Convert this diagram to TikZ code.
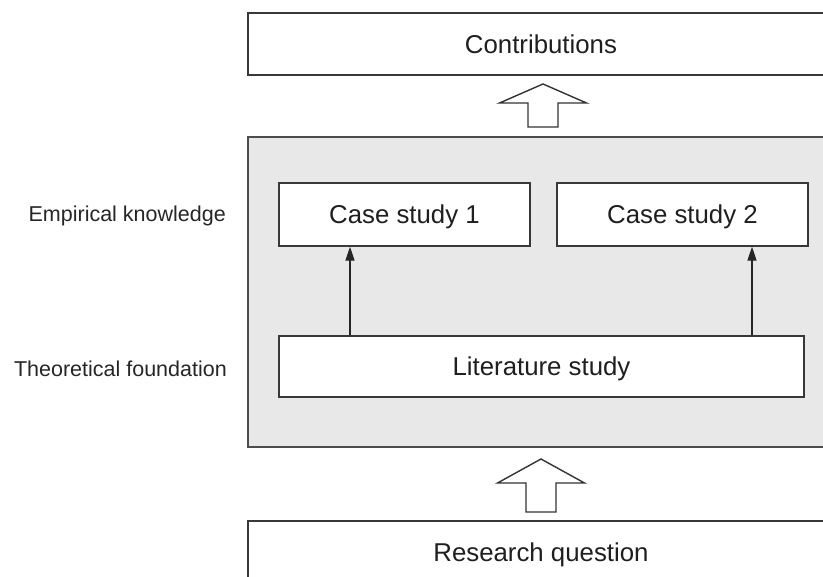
\documentclass[tikz,border=0pt]{standalone}
\usepackage{fontspec}
\setmainfont{Liberation Sans}
\usetikzlibrary{arrows.meta}
\begin{document}
\begin{tikzpicture}[x=1pt,y=-1pt,
 box/.style={draw=black!78, line width=1.4pt, fill=white, rectangle, inner sep=0pt,
   font=\fontsize{25.8}{30}\selectfont, text=black!88, text height=18.5pt, text depth=0pt},
 panel/.style={draw=black!70, line width=1.4pt, fill=black!9, rectangle, inner sep=0pt},
 lbl/.style={inner sep=0pt, font=\fontsize{21.5}{26}\selectfont, text=black!85},
 conn/.style={draw=black!85, line width=1.3pt, -{Triangle[length=14pt,width=9pt]}},
 hollow/.style={draw=black!80, line width=1.4pt, fill=white, line join=miter}]
\useasboundingbox (0,0) rectangle (823,577);
\clip (0,0) rectangle (823,577);
\fill[white] (0,0) rectangle (823,577);

% outer boxes
\node[box, minimum width=586pt, minimum height=62pt] (contrib) at (541,44) {Contributions};
\node[panel, minimum width=587pt, minimum height=310pt] (panel) at (541.5,292) {};
\node[box, minimum width=586pt, minimum height=62pt] (research) at (541,552) {Research question};

% inner boxes
\node[box, minimum width=251pt, minimum height=63pt] (case1) at (404.5,214.5) {Case study 1};
\node[box, minimum width=251pt, minimum height=63pt] (case2) at (682.5,214.5) {Case study 2};
\node[box, minimum width=525pt, minimum height=61pt] (lit) at (541.5,366.5) {Literature study};

% side labels
\node[lbl, anchor=base east] (emp) at (226,222) {Empirical knowledge};
\node[lbl, anchor=base east] (theo) at (227,377) {Theoretical foundation};

% connectors
\coordinate (a1) at (350,0);
\coordinate (a2) at (752,0);
\draw[conn] (a1 |- lit.north) -- (a1 |- case1.south);
\draw[conn] (a2 |- lit.north) -- (a2 |- case2.south);

% hollow arrows
\coordinate (h1) at (543,84);
\draw[hollow] (h1) -- ++(43.5,19) -- ++(-28.5,0) -- ++(0,24) -- ++(-30,0) -- ++(0,-24) -- ++(-28.5,0) -- cycle;
\coordinate (h2) at (541,459);
\draw[hollow] (h2) -- ++(43.5,24) -- ++(-28.5,0) -- ++(0,29) -- ++(-30,0) -- ++(0,-29) -- ++(-28.5,0) -- cycle;
\end{tikzpicture}
\end{document}
